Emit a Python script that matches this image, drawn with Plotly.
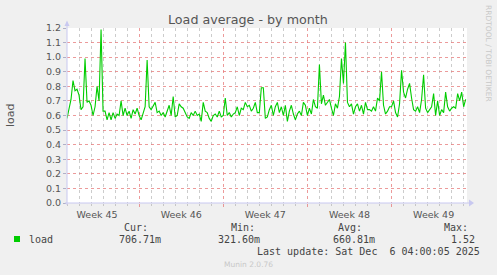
import pandas as pd
import plotly.graph_objects as go

# ---- data (5-minute load average, averaged to 4-hour steps) ----
start_time = "2025-11-04 00:00"
step_hours = 4
load_values = [
    0.58, 0.66, 0.71, 0.84, 0.77, 0.78, 0.74, 0.64, 0.66, 0.99,
    0.69, 0.70, 0.67, 0.60, 0.66, 0.80, 0.70, 1.19, 0.63, 0.63,
    0.57, 0.62, 0.57, 0.62, 0.58, 0.61, 0.60, 0.70, 0.60, 0.65,
    0.60, 0.63, 0.58, 0.64, 0.61, 0.65, 0.60, 0.57, 0.62, 0.66,
    0.98, 0.66, 0.64, 0.67, 0.69, 0.62, 0.63, 0.60, 0.62, 0.59,
    0.63, 0.67, 0.60, 0.73, 0.59, 0.60, 0.68, 0.66, 0.65, 0.62,
    0.59, 0.58, 0.62, 0.60, 0.63, 0.60, 0.61, 0.56, 0.69, 0.63,
    0.62, 0.58, 0.56, 0.60, 0.61, 0.59, 0.63, 0.59, 0.60, 0.72,
    0.60, 0.62, 0.59, 0.61, 0.62, 0.66, 0.60, 0.65, 0.64, 0.69,
    0.66, 0.67, 0.63, 0.65, 0.69, 0.62, 0.62, 0.79, 0.79, 0.58,
    0.59, 0.64, 0.67, 0.60, 0.66, 0.69, 0.62, 0.66, 0.60, 0.67,
    0.56, 0.63, 0.67, 0.61, 0.57, 0.61, 0.63, 0.60, 0.69, 0.67,
    0.60, 0.65, 0.61, 0.71, 0.66, 0.65, 0.95, 0.68, 0.74, 0.67,
    0.69, 0.71, 0.65, 0.60, 0.68, 0.65, 0.73, 0.99, 0.82, 1.10,
    0.69, 0.66, 0.68, 0.61, 0.66, 0.68, 0.63, 0.67, 0.61, 0.69,
    0.64, 0.64, 0.63, 0.66, 0.63, 0.72, 0.70, 0.90, 0.67, 0.61,
    0.63, 0.66, 0.66, 0.70, 0.62, 0.59, 0.68, 0.91, 0.76, 0.72,
    0.78, 0.82, 0.72, 0.64, 0.63, 0.66, 0.62, 0.71, 0.88, 0.65,
    0.62, 0.64, 0.66, 0.75, 0.60, 0.70, 0.60, 0.64, 0.62, 0.76,
    0.66, 0.63, 0.65, 0.66, 0.65, 0.75, 0.70, 0.76, 0.66, 0.71,
]
x_range = ["2025-11-04 00:00", "2025-12-07 06:40"]
week_tick0 = "2025-11-10"  # Monday

legend_name = "load"
stat_labels = ["Cur:", "Min:", "Avg:", "Max:"]
stat_values = ["706.71m", "321.60m", "660.81m", "1.52"]
last_update = "Last update: Sat Dec \u00a06 04:00:05 2025"
title_text = "Load average - by month"
y_title = "load"
y_range = [0, 1.2]

times = pd.date_range(start=start_time, periods=len(load_values), freq=f"{step_hours}h")

W, H = 497, 275
L, R, T, B = 67, 467, 28, 203


def px(x):
    return (x - L) / (R - L)


def py(y):
    return (B - y) / (B - T)


GREEN = "#00cc00"
TXT = "#555555"
AXIS = "#c8c8f0"
MAJOR = "rgba(230,120,120,0.75)"
MINOR = "rgba(170,170,170,0.6)"

fig = go.Figure()
fig.add_trace(go.Scatter(
    x=times, y=load_values, mode="lines",
    line=dict(color=GREEN, width=1.1), name=legend_name,
    hoverinfo="skip", showlegend=False,
))

fig.update_layout(
    width=W, height=H,
    margin=dict(l=L, r=W - R, t=T, b=H - B),
    paper_bgcolor="#f0f0f0", plot_bgcolor="#ffffff",
    font=dict(family="DejaVu Sans", size=10, color=TXT),
    showlegend=False,
)

fig.update_xaxes(
    type="date", range=x_range,
    tick0=week_tick0, dtick=7 * 86400000,
    tickformat="Week %V", ticklabelmode="period",
    showgrid=True, gridcolor=MAJOR, griddash="dot", gridwidth=1,
    ticks="outside", ticklen=3, tickcolor=MAJOR,
    tickfont=dict(size=9.5, color=TXT, family="DejaVu Sans"),
    showline=False, zeroline=False,
    minor=dict(dtick=86400000, tick0=week_tick0, showgrid=True,
               gridcolor=MINOR, griddash="dot", gridwidth=1,
               ticks="outside", ticklen=2, tickcolor=MINOR),
)
fig.update_yaxes(
    range=y_range, dtick=0.1, tickformat=".1f",
    showgrid=True, gridcolor=MAJOR, griddash="dot", gridwidth=1,
    ticks="outside", ticklen=3, tickcolor="#b0b0c8",
    tickfont=dict(size=9.5, color=TXT, family="DejaVu Sans"),
    zeroline=False, showline=False,
)

shapes = []
# axis lines with arrows
shapes.append(dict(type="line", xref="paper", yref="paper",
                   x0=px(67), x1=px(67), y0=py(205), y1=py(25),
                   line=dict(color=AXIS, width=1)))
shapes.append(dict(type="line", xref="paper", yref="paper",
                   x0=px(65), x1=px(470), y0=py(203), y1=py(203),
                   line=dict(color=AXIS, width=1)))
shapes.append(dict(type="path", xref="paper", yref="paper",
                   path=f"M {px(64.5)},{py(26)} L {px(69.5)},{py(26)} L {px(67)},{py(20.5)} Z",
                   fillcolor=AXIS, line=dict(width=0)))
shapes.append(dict(type="path", xref="paper", yref="paper",
                   path=f"M {px(469)},{py(199.5)} L {px(469)},{py(206.5)} L {px(474)},{py(203)} Z",
                   fillcolor=AXIS, line=dict(width=0)))
# legend swatch
shapes.append(dict(type="rect", xref="paper", yref="paper",
                   x0=px(14), x1=px(20), y0=py(242), y1=py(236),
                   fillcolor=GREEN, line=dict(width=0)))
fig.update_layout(shapes=shapes)

ann = []
ann.append(dict(text=title_text, x=px(247.5), y=py(19), xref="paper", yref="paper",
                showarrow=False, xanchor="center", yanchor="middle",
                font=dict(family="DejaVu Sans", size=12.7, color=TXT)))
ann.append(dict(text=y_title, x=px(10), y=py(115), xref="paper", yref="paper",
                showarrow=False, xanchor="center", yanchor="middle", textangle=-90,
                font=dict(family="DejaVu Sans", size=11, color=TXT)))
ann.append(dict(text="RRDTOOL / TOBI OETIKER", x=px(489), y=py(53), xref="paper", yref="paper",
                showarrow=False, xanchor="center", yanchor="middle", textangle=90,
                font=dict(family="DejaVu Sans", size=7.5, color="#c8c8c8")))
ann.append(dict(text="Munin 2.0.76", x=px(248), y=py(264.5), xref="paper", yref="paper",
                showarrow=False, xanchor="center", yanchor="middle",
                font=dict(family="DejaVu Sans", size=7.5, color="#c8c8c8")))

mono = dict(family="DejaVu Sans Mono", size=10, color="#444444")
ann.append(dict(text=legend_name, x=px(26.5), y=py(239.3), xref="paper", yref="paper",
                showarrow=False, xanchor="left", yanchor="middle", font=mono))
label_right = [150, 257, 364, 470]
value_right = [162.7, 261.7, 376.7, 476.7]
for lab, val, lr, vr in zip(stat_labels, stat_values, label_right, value_right):
    ann.append(dict(text=lab, x=px(lr), y=py(227.7), xref="paper", yref="paper",
                    showarrow=False, xanchor="right", yanchor="middle", font=mono))
    ann.append(dict(text=val, x=px(vr), y=py(239.3), xref="paper", yref="paper",
                    showarrow=False, xanchor="right", yanchor="middle", font=mono))
ann.append(dict(text=last_update, x=px(482.3), y=py(251), xref="paper", yref="paper",
                showarrow=False, xanchor="right", yanchor="middle", font=mono))
fig.update_layout(annotations=ann)

fig.write_html("out.html")
